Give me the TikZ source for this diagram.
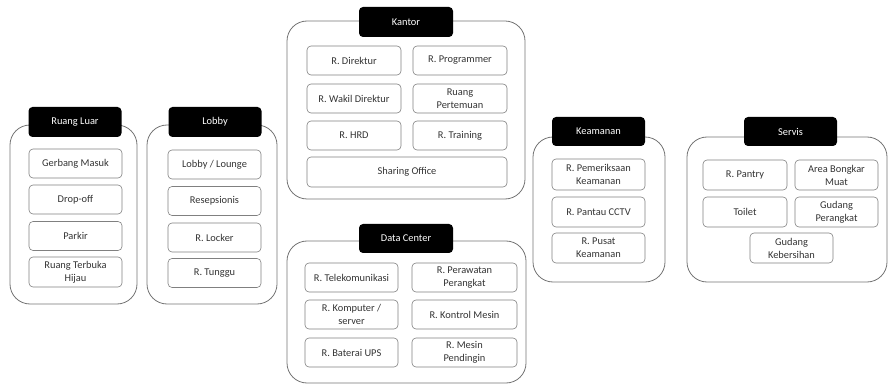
\documentclass[tikz,border=0pt]{standalone}
\usepackage{fontspec}
\setmainfont{Carlito}
\begin{document}
\begin{tikzpicture}[x=1pt,y=-1pt,
  outerbox/.style={draw=black!55,line width=0.8pt,rounded corners=20pt,inner sep=0pt},
  headbox/.style={fill=black,rounded corners=4pt,text=white,minimum width=93pt,minimum height=30pt,inner sep=0pt,font=\fontsize{10.4}{12}\selectfont},
  room/.style={draw=black!50,line width=0.6pt,rounded corners=4pt,text=black!80,align=center,minimum height=29pt,inner sep=0pt,font=\fontsize{10.4}{13}\selectfont}]
\useasboundingbox (0,0) rectangle (889,390);
% Ruang Luar
\node[outerbox,minimum width=127pt,minimum height=179pt] (rlo) at (73.5,214.5) {};
\node[headbox] (rlh) at (75,122) {Ruang Luar};
\node[room,minimum width=93pt] (rl1) at (75.5,163.5) {Gerbang Masuk};
\node[room,minimum width=93pt] (rl2) at (75.5,199.5) {Drop-off};
\node[room,minimum width=93pt] (rl3) at (75.5,236) {Parkir};
\node[room,minimum width=93pt,minimum height=30pt] (rl4) at (75.5,272) {Ruang Terbuka\\Hijau};
% Lobby
\node[outerbox,minimum width=130pt,minimum height=179pt] (lbo) at (212,214.5) {};
\node[headbox] (lbh) at (215,122) {Lobby};
\node[room,minimum width=93pt] (lb1) at (214.5,164.5) {Lobby / Lounge};
\node[room,minimum width=93pt] (lb2) at (214.5,201) {Resepsionis};
\node[room,minimum width=93pt] (lb3) at (214.5,237.5) {R. Locker};
\node[room,minimum width=93pt] (lb4) at (214.5,273) {R. Tunggu};
% Kantor
\node[outerbox,minimum width=238pt,minimum height=178pt] (kto) at (406,110) {};
\node[headbox,minimum width=94pt] (kth) at (406,22) {Kantor};
\node[room,minimum width=94pt] (kt1) at (354,60.5) {R. Direktur};
\node[room,minimum width=94pt] (kt2) at (460,60.5) {R. Programmer};
\node[room,minimum width=94pt] (kt3) at (354,98.5) {R. Wakil Direktur};
\node[room,minimum width=94pt] (kt4) at (460,98.5) {Ruang\\Pertemuan};
\node[room,minimum width=94pt] (kt5) at (354,135.5) {R. HRD};
\node[room,minimum width=94pt] (kt6) at (460,135.5) {R. Training};
\node[room,minimum width=200pt,minimum height=30pt] (kt7) at (407,172) {Sharing Office};
% Data Center
\node[outerbox,minimum width=239pt,minimum height=142pt] (dco) at (406.5,312) {};
\node[headbox,minimum width=94pt,minimum height=29pt] (dch) at (406,238.5) {Data Center};
\node[room,minimum width=93pt] (dc1) at (351.5,277.5) {R. Telekomunikasi};
\node[room,minimum width=105pt] (dc2) at (464.5,277.5) {R. Perawatan\\Perangkat};
\node[room,minimum width=93pt] (dc3) at (351.5,314.5) {R. Komputer /\\server};
\node[room,minimum width=105pt] (dc4) at (464.5,314.5) {R. Kontrol Mesin};
\node[room,minimum width=93pt] (dc5) at (351.5,352.5) {R. Baterai UPS};
\node[room,minimum width=105pt] (dc6) at (464.5,352.5) {R. Mesin\\Pendingin};
% Keamanan
\node[outerbox,minimum width=132pt,minimum height=145pt] (kmo) at (599,209.5) {};
\node[headbox,minimum height=29pt] (kmh) at (598.5,131.5) {Keamanan};
\node[room,minimum width=93pt,minimum height=31pt] (km1) at (598.5,174.5) {R. Pemeriksaan\\Keamanan};
\node[room,minimum width=93pt,minimum height=30pt] (km2) at (598.5,212) {R. Pantau CCTV};
\node[room,minimum width=93pt,minimum height=30pt] (km3) at (598.5,248) {R. Pusat\\Keamanan};
% Servis
\node[outerbox,minimum width=200pt,minimum height=145pt] (svo) at (787,209.5) {};
\node[headbox,minimum height=29pt] (svh) at (790.5,131.5) {Servis};
\node[room,minimum width=84pt,minimum height=30pt] (sv1) at (745,175) {R. Pantry};
\node[room,minimum width=83pt,minimum height=30pt] (sv2) at (836.5,175) {Area Bongkar\\Muat};
\node[room,minimum width=84pt,minimum height=30pt] (sv3) at (745,212) {Toilet};
\node[room,minimum width=83pt,minimum height=30pt] (sv4) at (836.5,212) {Gudang\\Perangkat};
\node[room,minimum width=83pt,minimum height=30pt] (sv5) at (791.5,248) {Gudang\\Kebersihan};
\end{tikzpicture}
\end{document}
